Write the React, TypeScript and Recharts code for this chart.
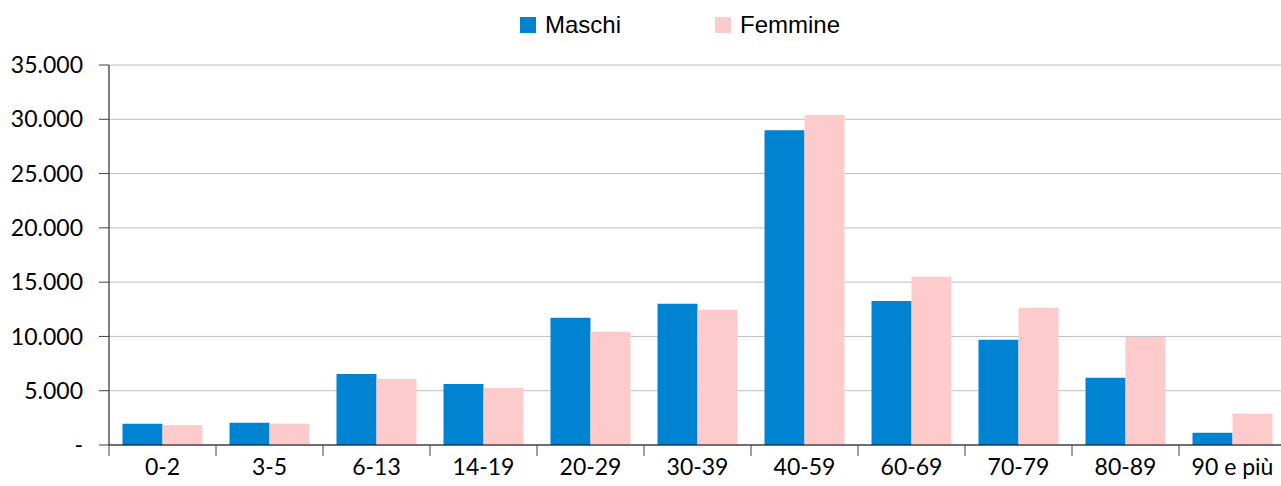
import { BarChart, Bar, XAxis, YAxis, CartesianGrid } from "recharts";

const ageGroups = ["0-2", "3-5", "6-13", "14-19", "20-29", "30-39", "40-59", "60-69", "70-79", "80-89", "90 e più"];
const maschi = [1950, 2050, 6540, 5620, 11720, 13000, 29000, 13270, 9700, 6200, 1130];
const femmine = [1850, 1950, 6080, 5250, 10430, 12460, 30400, 15500, 12650, 9940, 2880];
const seriesNames = ["Maschi", "Femmine"];
const seriesColors = ["#0083d1", "#fdcbcb"];
const yTicks = [0, 5000, 10000, 15000, 20000, 25000, 30000, 35000];

const data = ageGroups.map((g, i) => ({ group: g, maschi: maschi[i], femmine: femmine[i] }));

const fmt = (v: number) => (v === 0 ? "-" : v.toString().replace(/\B(?=(\d{3})+(?!\d))/g, "."));

function XTick(props: any) {
  const { x, y, payload } = props;
  const half = payload.offset ?? 53.5;
  return (
    <g>
      <line x1={x - half} x2={x - half} y1={y - 8} y2={y + 3} stroke="#404040" />
      <text x={x} y={y + 22} textAnchor="middle" fontFamily="Lato" fontSize={23} fill="#000">
        {payload.value}
      </text>
    </g>
  );
}

function LegendBox() {
  return (
    <div
      style={{
        position: "absolute",
        left: 520,
        top: 13,
        display: "flex",
        alignItems: "center",
        fontFamily: "Liberation Sans",
        fontSize: 24,
        color: "#000",
      }}
    >
      {seriesNames.map((n, i) => (
        <div key={n} style={{ display: "flex", alignItems: "center", marginRight: 94 }}>
          <div style={{ width: 16, height: 16, background: seriesColors[i], marginRight: 9 }} />
          <span style={{ lineHeight: "24px" }}>{n}</span>
        </div>
      ))}
    </div>
  );
}

export default function App() {
  return (
    <div style={{ position: "absolute", left: 0, top: 0, width: 1281, height: 486, overflow: "hidden", background: "#fff" }}>
      <BarChart
        width={1286}
        height={486}
        data={data}
        margin={{ top: 65, right: 0, left: 0, bottom: 0 }}
        barCategoryGap={13.5}
        barGap={0}
      >
        <CartesianGrid vertical={false} stroke="#bfbfbf" />
        <XAxis
          dataKey="group"
          height={41}
          axisLine={{ stroke: "#000" }}
          tickLine={false}
          tick={<XTick />}
          interval={0}
        />
        <YAxis
          width={109}
          domain={[0, 35000]}
          ticks={yTicks}
          tickFormatter={fmt}
          axisLine={{ stroke: "#000" }}
          tickLine={{ stroke: "#404040" }}
          tickSize={10}
          tickMargin={16}
          tick={{ fontFamily: "Lato", fontSize: 23, fill: "#000" }}
        />
        <Bar dataKey="maschi" name={seriesNames[0]} fill={seriesColors[0]} isAnimationActive={false} />
        <Bar dataKey="femmine" name={seriesNames[1]} fill={seriesColors[1]} isAnimationActive={false} />
      </BarChart>
      <LegendBox />
    </div>
  );
}
